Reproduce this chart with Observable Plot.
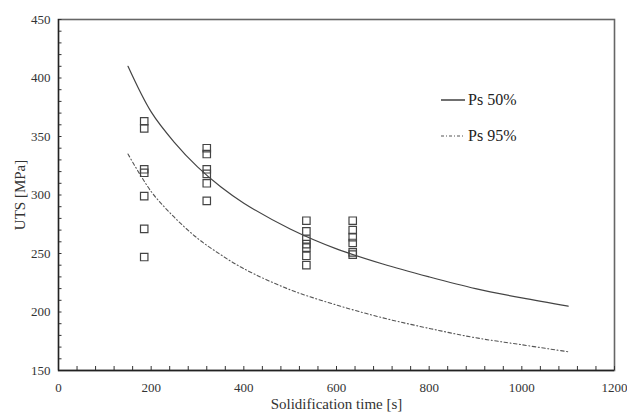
<!DOCTYPE html>
<html>
<head>
<meta charset="utf-8">
<script src="https://cdn.jsdelivr.net/npm/d3@7"></script>
<script src="https://cdn.jsdelivr.net/npm/@observablehq/plot@0.6"></script>
<style>
  html, body { margin: 0; padding: 0; background: #fff; }
  #wrap { position: relative; width: 627px; height: 412px; font-family: "Liberation Serif", "DejaVu Serif", serif; }
  #wrap svg text { font-family: "Liberation Serif", "DejaVu Serif", serif; }
  #legend { position: absolute; left: 440px; top: 90px; font-family: "Liberation Serif", serif; font-size: 16px; color: #222; }
  #legend .row { display: flex; align-items: center; height: 20px; margin-bottom: 16px; }
  #legend svg { margin-right: 2px; }
</style>
</head>
<body>
<div id="wrap"></div>
<script>
// Experimental data: solidification time [s] and UTS [MPa]
const timeGroups = [185, 320, 535, 635];
const utsGroups = [
  [363, 357, 322, 319, 299, 271, 247],
  [340, 335, 322, 318, 310, 295],
  [278, 269, 262, 258, 255, 248, 240],
  [278, 270, 264, 259, 251, 249]
];
// Curves
const curveTimes = [150, 200, 250, 300, 350, 400, 500, 600, 700, 800, 900, 1000, 1100];
const ps50 = [410, 371, 345, 324, 307, 293, 271, 254, 241, 230, 220, 212, 205];
const ps95 = [335, 303, 281, 263, 249, 237, 219, 206, 195, 186, 178, 172, 166];
const xTicks = [0, 200, 400, 600, 800, 1000, 1200];
const yTicks = [150, 200, 250, 300, 350, 400, 450];
const legendLabels = ["Ps 50%", "Ps 95%"];

const points = timeGroups.flatMap((t, i) => utsGroups[i].map(v => ({t, v})));
const curve50 = curveTimes.map((t, i) => ({t, v: ps50[i]}));
const curve95 = curveTimes.map((t, i) => ({t, v: ps95[i]}));

const font = "'Liberation Serif', 'Times New Roman', serif";

const chart = Plot.plot({
  width: 627,
  height: 412,
  marginLeft: 58,
  marginRight: 13,
  marginTop: 19,
  marginBottom: 42,
  style: {fontFamily: font, fontSize: "13px", color: "#333", background: "#fff"},
  x: {domain: [0, 1200]},
  y: {domain: [150, 450]},
  marks: [
    Plot.frame({stroke: "#666", strokeWidth: 1.6}),
    Plot.axisX({ticks: d3.range(0, 1201, 40), tickSize: -4, tickFormat: () => "", label: null, stroke: "#333"}),
    Plot.axisY({ticks: d3.range(150, 451, 10), tickSize: -3.5, tickFormat: () => "", label: null, stroke: "#333"}),
    Plot.axisX({ticks: xTicks, tickSize: 0, tickPadding: 12, fontSize: 13, tickFormat: d => String(d), label: "Solidification time [s]", labelAnchor: "center", labelArrow: "none", labelOffset: 38}),
    Plot.axisY({ticks: yTicks, tickSize: 0, tickPadding: 8, fontSize: 13, tickFormat: d => String(d), label: "UTS [MPa]", labelAnchor: "center", labelArrow: "none", labelOffset: 44}),
    Plot.ruleX([0], {stroke: "#222", strokeWidth: 1.3}),
    Plot.ruleY([150], {stroke: "#222", strokeWidth: 1.3}),
    Plot.line(curve50, {x: "t", y: "v", curve: "catmull-rom", stroke: "#444", strokeWidth: 1.2}),
    Plot.line(curve95, {x: "t", y: "v", curve: "catmull-rom", stroke: "#555", strokeWidth: 1.1, strokeDasharray: "3.5,2.5,1,2.5"}),
    Plot.dot(points, {x: "t", y: "v", symbol: "square", r: 4.2, stroke: "#444", strokeWidth: 1.2, fill: "none"})
  ]
});
document.getElementById("wrap").appendChild(chart);
// larger axis titles
chart.querySelectorAll("text").forEach(t => {
  if (/Solidification|UTS/.test(t.textContent)) t.setAttribute("font-size", "15");
});

// Legend
const legend = document.createElement("div");
legend.id = "legend";
legendLabels.forEach((lab, i) => {
  const row = document.createElement("div");
  row.className = "row";
  row.innerHTML = `<svg width="26" height="10"><line x1="1" x2="25" y1="5" y2="5" stroke="${i ? "#555" : "#333"}" stroke-width="${i ? 1.1 : 1.4}" ${i ? 'stroke-dasharray="3,2,1,2"' : ""}/></svg><span>${lab}</span>`;
  legend.appendChild(row);
});
document.getElementById("wrap").appendChild(legend);
</script>
</body>
</html>
